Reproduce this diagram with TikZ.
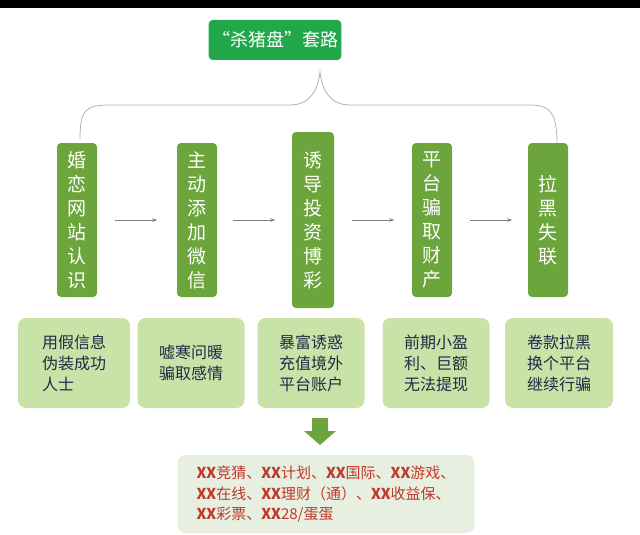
\documentclass[tikz,border=0pt]{standalone}
\usepackage{fontspec}
\newfontfamily\cjk{Noto Sans CJK SC}
\usetikzlibrary{arrows.meta}
\definecolor{tg}{HTML}{22A84A}
\definecolor{og}{HTML}{6BA53C}
\definecolor{lg}{HTML}{C8E2A8}
\definecolor{pg}{HTML}{E7EFE0}
\definecolor{rd}{HTML}{C0392B}
\definecolor{nv}{HTML}{1F2A44}
\begin{document}
\begin{tikzpicture}[x=1pt,y=-1pt,
 vbox/.style={fill=og,rounded corners=4pt,text=white,font=\cjk\fontsize{19}{24}\selectfont,align=center,inner sep=0pt,text width=40pt},
 lbox/.style={fill=lg,rounded corners=8pt,text=nv,font=\cjk\fontsize{16}{21}\selectfont,align=left,inner sep=0pt,minimum width=107pt,minimum height=90pt},
 flow/.style={draw=gray,line width=0.8pt,-{Stealth[length=5pt]}},
 brace/.style={draw=gray!60,line width=0.8pt}]
\useasboundingbox (0,0) rectangle (640,535);
\fill[black] (0,0) rectangle (640,8);
\node[fill=tg,rounded corners=4pt,text=white,font=\cjk\fontsize{18}{20}\selectfont,minimum width=105pt,minimum height=40pt] (t) at (275,40) {“杀猪盘”套路};
\coordinate (bt) at (320,72);
\coordinate (bl) at (80,140);
\coordinate (br) at (557,145);
\draw[brace] (bl) .. controls (80,110) and (85,105) .. (110,105) -- (290,105) .. controls (310,105) and (318,90) .. (bt) .. controls (322,90) and (330,105) .. (350,105) -- (530,105) .. controls (552,105) and (557,115) .. (br);
\node[vbox,minimum height=154pt] (a1) at (77,220) {婚\\恋\\网\\站\\认\\识};
\node[vbox,minimum height=154pt] (a2) at (197,220) {主\\动\\添\\加\\微\\信};
\node[vbox,minimum height=176pt,text width=42pt] (a3) at (313,220) {诱\\导\\投\\资\\博\\彩};
\node[vbox,minimum height=154pt] (a4) at (432,220) {平\\台\\骗\\取\\财\\产};
\node[vbox,minimum height=154pt] (a5) at (548,220) {拉\\黑\\失\\联};
\draw[flow] (a1.east) ++(18,0) -- ++(42,0);
\draw[flow] (a2.east) ++(16,0) -- ++(42,0);
\draw[flow] (a3.east) ++(18,0) -- ++(42,0);
\draw[flow] (a4.east) ++(18,0) -- ++(42,0);
\node[lbox,minimum width=112pt] (b1) at (74,363) {用假信息\\伪装成功\\人士};
\node[lbox] (b2) at (191,363) {嘘寒问暖\\骗取感情};
\node[lbox] (b3) at (311,363) {暴富诱惑\\充值境外\\平台账户};
\node[lbox] (b4) at (436,363) {前期小盈\\利、巨额\\无法提现};
\node[lbox,minimum width=108pt] (b5) at (559,363) {卷款拉黑\\换个平台\\继续行骗};
\fill[og] (312,418) rectangle (328,431) -- (336,431) -- (320,445) -- (304,431) -- (312,431) -- cycle;
\node[fill=pg,rounded corners=8pt,text=rd,font=\cjk\fontsize{15}{20}\selectfont,align=left,minimum width=297pt,minimum height=78pt,inner sep=4pt] (c) at (326,494) {\textbf{XX}竞猜、\textbf{XX}计划、\textbf{XX}国际、\textbf{XX}游戏、\\ \textbf{XX}在线、\textbf{XX}理财（通）、\textbf{XX}收益保、\\ \textbf{XX}彩票、\textbf{XX}28/蛋蛋};
\end{tikzpicture}
\end{document}
